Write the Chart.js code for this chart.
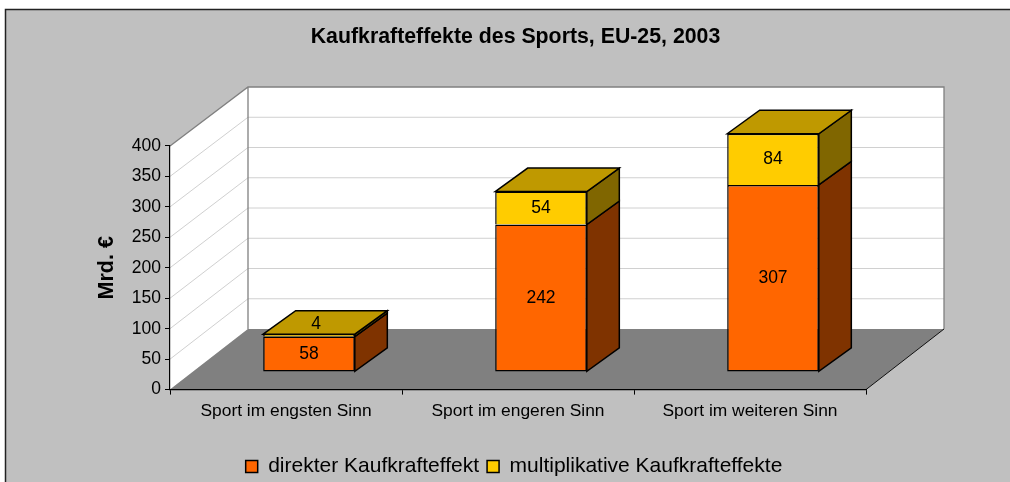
<!DOCTYPE html>
<html>
<head>
<meta charset="utf-8">
<style>html,body{margin:0;padding:0;background:#fff}canvas{display:block}</style>
<script src="https://cdn.jsdelivr.net/npm/chart.js@4/dist/chart.umd.js"></script>
</head>
<body>
<canvas id="c" width="1010" height="482"></canvas>
<script>
const categories = ['Sport im engsten Sinn', 'Sport im engeren Sinn', 'Sport im weiteren Sinn'];
const direkter = [58, 242, 307];
const multiplikativ = [4, 54, 84];
const seriesNames = ['direkter Kaufkrafteffekt', 'multiplikative Kaufkrafteffekte'];
const chartTitle = 'Kaufkrafteffekte des Sports, EU-25, 2003';
const axisTitle = 'Mrd. €';

const FONT = '"Liberation Sans", Arial, sans-serif';
const ORANGE = '#FF6600', YELLOW = '#FFCC00';
const ORANGE_SIDE = '#7F3300', YELLOW_SIDE = '#806600', TOP_FACE = '#BF9900';
const WALL = {dx: 78, backBottom: 329, backTop: 87};
const BAR_SHIFT = {x: 23, y: -17.7};
const BAR_DEPTH = {x: 32.5, y: -23.5};

function poly(ctx, pts, fill, stroke, lw) {
  ctx.beginPath();
  pts.forEach((p, i) => i ? ctx.lineTo(p[0], p[1]) : ctx.moveTo(p[0], p[1]));
  ctx.closePath();
  if (fill) { ctx.fillStyle = fill; ctx.fill(); }
  if (stroke) { ctx.strokeStyle = stroke; ctx.lineWidth = lw; ctx.stroke(); }
}

const scene = {
  id: 'scene',
  beforeDraw(chart) {
    const ctx = chart.ctx, W = chart.width, H = chart.height;
    const a = chart.chartArea, y = chart.scales.y;
    const dx = WALL.dx;
    const backY = py => WALL.backBottom + (py - a.bottom) * (WALL.backBottom - WALL.backTop) / (a.bottom - a.top);
    ctx.save();
    ctx.fillStyle = '#fff'; ctx.fillRect(0, 0, W, H);
    ctx.fillStyle = '#C0C0C0'; ctx.fillRect(6, 10, W - 6, H - 10);
    ctx.strokeStyle = '#222'; ctx.lineWidth = 1.5;
    ctx.beginPath(); ctx.moveTo(5.5, H); ctx.lineTo(5.5, 9.5); ctx.lineTo(W, 9.5); ctx.stroke();

    // walls and floor
    poly(ctx, [[a.left, a.top], [a.left + dx, WALL.backTop], [a.left + dx, WALL.backBottom], [a.left, a.bottom]], '#fff');
    poly(ctx, [[a.left + dx, WALL.backTop], [a.right + dx, WALL.backTop], [a.right + dx, WALL.backBottom], [a.left + dx, WALL.backBottom]], '#fff');
    poly(ctx, [[a.left, a.bottom], [a.left + dx, WALL.backBottom], [a.right + dx, WALL.backBottom], [a.right, a.bottom]], '#808080');

    // gridlines on both walls, from the value scale
    ctx.strokeStyle = '#D0D0D0'; ctx.lineWidth = 1;
    y.ticks.forEach(t => {
      if (t.value === 0 || t.value === y.max) return;
      const p = y.getPixelForValue(t.value), b = backY(p);
      ctx.beginPath(); ctx.moveTo(a.left, p); ctx.lineTo(a.left + dx, b); ctx.lineTo(a.right + dx, b); ctx.stroke();
    });
    // wall outline
    ctx.strokeStyle = '#808080'; ctx.lineWidth = 1.3;
    ctx.beginPath();
    ctx.moveTo(a.left, a.top); ctx.lineTo(a.left + dx, WALL.backTop); ctx.lineTo(a.right + dx, WALL.backTop);
    ctx.lineTo(a.right + dx, WALL.backBottom);
    ctx.moveTo(a.left + dx, WALL.backTop); ctx.lineTo(a.left + dx, WALL.backBottom);
    ctx.stroke();
    // floor right edge
    ctx.strokeStyle = '#111'; ctx.lineWidth = 1;
    ctx.beginPath(); ctx.moveTo(a.right, a.bottom); ctx.lineTo(a.right + dx, WALL.backBottom); ctx.stroke();
    ctx.restore();

    // place the title and legend blocks where the reference has them
    const t = chart.titleBlock, l = chart.legend;
    if (t) { t.left = 10.5; t.right = W + 10.5; t.top = 24; t.bottom = t.top + t.height; }
    if (l) { l.left = 9; l.right = W + 9; l.top = 448; l.bottom = l.top + l.height; }
  },
  beforeDatasetsDraw(chart) {
    const ctx = chart.ctx;
    ctx.save();
    ctx.translate(BAR_SHIFT.x, BAR_SHIFT.y);
    const d = BAR_DEPTH, sides = [ORANGE_SIDE, YELLOW_SIDE];
    const lastIdx = chart.data.datasets.length - 1;
    chart.data.datasets.forEach((ds, di) => {
      chart.getDatasetMeta(di).data.forEach(el => {
        const r = el.x + el.width / 2, l = el.x - el.width / 2;
        poly(ctx, [[r, el.y], [r + d.x, el.y + d.y], [r + d.x, el.base + d.y], [r, el.base]], sides[di], '#000', 1.5);
        if (di === lastIdx) {
          poly(ctx, [[l, el.y], [l + d.x, el.y + d.y], [r + d.x, el.y + d.y], [r, el.y]], TOP_FACE, '#000', 1.5);
        }
      });
    });
  },
  afterDatasetsDraw(chart) {
    const ctx = chart.ctx;
    ctx.fillStyle = '#000';
    ctx.font = '17.5px ' + FONT;
    ctx.textAlign = 'center'; ctx.textBaseline = 'middle';
    chart.data.datasets.forEach((ds, di) => {
      chart.getDatasetMeta(di).data.forEach((el, i) => {
        const h = el.base - el.y;
        const thin = h < 12;
        ctx.fillText(String(ds.data[i]), el.x + (thin ? 7 : 0), (el.y + el.base) / 2 + (thin ? -11 : 0));
      });
    });
    ctx.restore();
  }
};

// the upper segment shares its lower outline with the segment below it
const segmentBorder = c => ({top: c.raw < 10 ? 1.2 : 1.5, bottom: 0, left: 1.5, right: 1.5});

new Chart(document.getElementById('c'), {
  type: 'bar',
  data: {
    labels: categories,
    datasets: [
      {label: seriesNames[0], data: direkter, backgroundColor: ORANGE, borderColor: '#000', borderWidth: 1.5, borderSkipped: false, clip: false},
      {label: seriesNames[1], data: multiplikativ, backgroundColor: YELLOW, borderColor: '#000', borderWidth: segmentBorder, borderSkipped: false, clip: false}
    ]
  },
  options: {
    responsive: false,
    animation: false,
    devicePixelRatio: 1,
    layout: {padding: {top: 120.4, left: 0, right: 144, bottom: 0}},
    datasets: {bar: {categoryPercentage: 1, barPercentage: 0.395}},
    plugins: {
      tooltip: {enabled: false},
      title: {display: true, text: chartTitle, color: '#000', padding: 0, font: {family: FONT, size: 21.3, weight: 'bold'}},
      legend: {
        position: 'bottom',
        labels: {boxWidth: 12, boxHeight: 12, padding: 8, color: '#000', font: {family: FONT, size: 21},
          generateLabels(chart) {
            return chart.data.datasets.map((ds, i) => ({
              text: ds.label, fillStyle: ds.backgroundColor, strokeStyle: '#000', lineWidth: 1.5,
              fontColor: '#000', datasetIndex: i, hidden: false
            }));
          }
        }
      }
    },
    scales: {
      x: {
        stacked: true,
        afterFit(s) { s.height = 53.4; },
        grid: {offset: true, drawOnChartArea: false, tickLength: 5, tickColor: '#000'},
        border: {color: '#000', width: 1.2},
        ticks: {color: '#000', maxRotation: 0, autoSkip: false, padding: 6.5, font: {family: FONT, size: 17.4}}
      },
      y: {
        stacked: true, min: 0, max: 400,
        afterFit(s) { s.width = 170; },
        grid: {drawOnChartArea: false, tickLength: 5, tickColor: '#000'},
        border: {color: '#000', width: 1.2},
        ticks: {stepSize: 50, color: '#000', padding: 4, font: {family: FONT, size: 17.5}},
        title: {display: true, text: axisTitle, color: '#000', padding: {top: 94, bottom: 0}, font: {family: FONT, size: 21.5, weight: 'bold'}}
      }
    }
  },
  plugins: [scene]
});
</script>
</body>
</html>
